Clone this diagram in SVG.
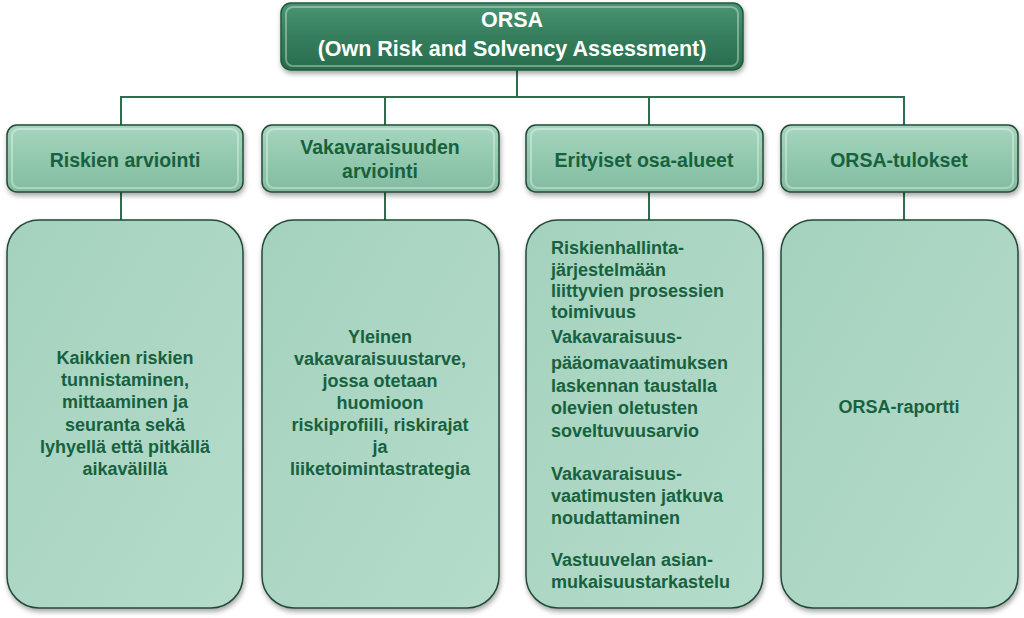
<svg xmlns="http://www.w3.org/2000/svg" width="1024" height="618" viewBox="0 0 1024 618">
<defs>
<linearGradient id="gTop" x1="0" y1="0" x2="0" y2="1">
<stop offset="0" stop-color="#4a9473"/><stop offset="0.5" stop-color="#357e5d"/><stop offset="1" stop-color="#286c4c"/>
</linearGradient>
<linearGradient id="gHead" x1="0" y1="0" x2="0" y2="1">
<stop offset="0" stop-color="#a6d6bf"/><stop offset="0.5" stop-color="#93c9af"/><stop offset="1" stop-color="#82bc9f"/>
</linearGradient>
<linearGradient id="gBody" x1="0" y1="0" x2="1" y2="1">
<stop offset="0" stop-color="#a4d2bd"/><stop offset="1" stop-color="#b5dccb"/>
</linearGradient>
<filter id="sh" x="-10%" y="-10%" width="120%" height="125%">
<feDropShadow dx="1" dy="3" stdDeviation="2.5" flood-color="#000" flood-opacity="0.35"/>
</filter>
<style>
.top{fill:url(#gTop);stroke:#1f5a3e;stroke-width:1.5;filter:url(#sh)}
.head{fill:url(#gHead);stroke:#244a38;stroke-width:1.5;filter:url(#sh)}
.body{fill:url(#gBody);stroke:#244a38;stroke-width:1.5;filter:url(#sh)}
.hl{fill:none;stroke:#ffffff;stroke-opacity:0.35;stroke-width:2}
.conn line{stroke:#2b6e50;stroke-width:2}
text{font-family:"Liberation Sans",Arial,sans-serif;font-weight:bold}
.tt{fill:#ffffff;font-size:21.5px;text-anchor:middle}
.ht{fill:#17613f;font-size:19.5px;text-anchor:middle}
.bt{fill:#17613f;font-size:18px;text-anchor:middle}
.bl{fill:#17613f;font-size:18px}
</style>
</defs>
<rect width="1024" height="618" fill="#ffffff"/>
<g class="conn" id="connectors">
<line x1="517" y1="70" x2="517" y2="97"/>
<line x1="120" y1="97" x2="905" y2="97"/>
<line x1="121" y1="97" x2="121" y2="125"/>
<line x1="385" y1="97" x2="385" y2="125"/>
<line x1="649" y1="97" x2="649" y2="125"/>
<line x1="904" y1="97" x2="904" y2="125"/>
<line x1="121" y1="192" x2="121" y2="220"/>
<line x1="385" y1="192" x2="385" y2="220"/>
<line x1="649" y1="192" x2="649" y2="220"/>
<line x1="904" y1="192" x2="904" y2="220"/>
</g>
<g id="orsa">
<rect class="top" x="281" y="3" width="462" height="67" rx="10"/>
<rect class="hl" x="286" y="7" width="452" height="59" rx="7"/>
<text class="tt" x="512" y="27">ORSA</text>
<text class="tt" x="512" y="56">(Own Risk and Solvency Assessment)</text>
</g>
<g id="h1">
<rect class="head" x="7" y="125" width="236" height="67" rx="10"/>
<rect class="hl" x="12" y="129" width="226" height="59" rx="7"/>
<text class="ht" x="125" y="167">Riskien arviointi</text>
</g>
<g id="h2">
<rect class="head" x="262" y="125" width="237" height="67" rx="10"/>
<rect class="hl" x="267" y="129" width="227" height="59" rx="7"/>
<text class="ht" x="380" y="154">Vakavaraisuuden</text>
<text class="ht" x="380" y="178">arviointi</text>
</g>
<g id="h3">
<rect class="head" x="526" y="125" width="237" height="67" rx="10"/>
<rect class="hl" x="531" y="129" width="227" height="59" rx="7"/>
<text class="ht" x="644" y="167">Erityiset osa-alueet</text>
</g>
<g id="h4">
<rect class="head" x="781" y="125" width="237" height="67" rx="10"/>
<rect class="hl" x="786" y="129" width="227" height="59" rx="7"/>
<text class="ht" x="899" y="167">ORSA-tulokset</text>
</g>
<g id="b1">
<rect class="body" x="7" y="220" width="236" height="388" rx="32"/>
<text class="bt" x="125" y="364">Kaikkien riskien</text>
<text class="bt" x="125" y="386">tunnistaminen,</text>
<text class="bt" x="125" y="408">mittaaminen ja</text>
<text class="bt" x="125" y="431">seuranta sekä</text>
<text class="bt" x="125" y="453">lyhyellä että pitkällä</text>
<text class="bt" x="125" y="475">aikavälillä</text>
</g>
<g id="b2">
<rect class="body" x="262" y="220" width="237" height="388" rx="32"/>
<text class="bt" x="380" y="343">Yleinen</text>
<text class="bt" x="380" y="365">vakavaraisuustarve,</text>
<text class="bt" x="380" y="387">jossa otetaan</text>
<text class="bt" x="380" y="409">huomioon</text>
<text class="bt" x="380" y="431">riskiprofiili, riskirajat</text>
<text class="bt" x="380" y="453">ja</text>
<text class="bt" x="380" y="475">liiketoimintastrategia</text>
</g>
<g id="b3">
<rect class="body" x="526" y="220" width="237" height="388" rx="32"/>
<text class="bl" x="551" y="254">Riskienhallinta-</text>
<text class="bl" x="551" y="276">järjestelmään</text>
<text class="bl" x="551" y="297">liittyvien prosessien</text>
<text class="bl" x="551" y="318">toimivuus</text>
<text class="bl" x="551" y="343">Vakavaraisuus-</text>
<text class="bl" x="551" y="369">pääomavaatimuksen</text>
<text class="bl" x="551" y="392">laskennan taustalla</text>
<text class="bl" x="551" y="414">olevien oletusten</text>
<text class="bl" x="551" y="437">soveltuvuusarvio</text>
<text class="bl" x="551" y="480">Vakavaraisuus-</text>
<text class="bl" x="551" y="502">vaatimusten jatkuva</text>
<text class="bl" x="551" y="524">noudattaminen</text>
<text class="bl" x="551" y="566">Vastuuvelan asian-</text>
<text class="bl" x="551" y="588">mukaisuustarkastelu</text>
</g>
<g id="b4">
<rect class="body" x="781" y="220" width="237" height="388" rx="32"/>
<text class="bt" x="899" y="413">ORSA-raportti</text>
</g>
</svg>
